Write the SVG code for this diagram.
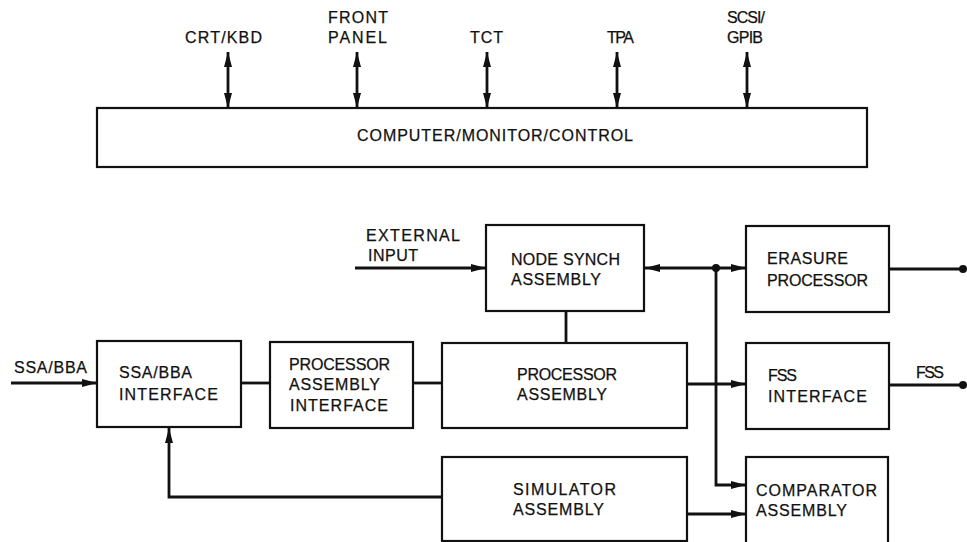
<svg xmlns="http://www.w3.org/2000/svg" width="967" height="542" viewBox="0 0 967 542">
<style>
  .box { fill: #fff; stroke: #111; stroke-width: 2.2; }
  .t { font-family: "Liberation Sans", Arial, sans-serif; font-size: 16px; fill: #111; stroke: #111; stroke-width: 0.25; }
  .c { fill: none; stroke: #111; stroke-width: 2.8; }
  .a { marker-end: url(#ah); }
  .ab { marker-start: url(#ah); marker-end: url(#ah); }
  .dot { fill: #111; }
</style>
<defs>
  <marker id="ah" markerUnits="userSpaceOnUse" markerWidth="16" markerHeight="10" refX="15" refY="4.5" orient="auto-start-reverse">
    <path d="M0,0.5 L15,4.5 L0,8.5 Z" fill="#111"/>
  </marker>
</defs>
<rect width="967" height="542" fill="#fff"/>

<g id="connectors">
  <line class="c ab" x1="228" y1="52" x2="228" y2="108"/>
  <line class="c ab" x1="357" y1="52" x2="357" y2="108"/>
  <line class="c ab" x1="487" y1="52" x2="487" y2="108"/>
  <line class="c ab" x1="617" y1="52" x2="617" y2="108"/>
  <line class="c ab" x1="747" y1="52" x2="747" y2="108"/>
  <line class="c a" x1="355" y1="268" x2="486" y2="268"/>
  <line class="c ab" x1="645" y1="268" x2="746" y2="268"/>
  <circle class="dot" cx="716" cy="268" r="4"/>
  <polyline class="c a" points="716,268 716,485 746,485"/>
  <line class="c" x1="889" y1="269" x2="963" y2="269"/>
  <circle class="dot" cx="963" cy="269" r="4"/>
  <line class="c" x1="566" y1="311" x2="566" y2="343"/>
  <line class="c a" x1="11" y1="383" x2="97" y2="383"/>
  <line class="c" x1="241" y1="383" x2="270" y2="383"/>
  <line class="c" x1="413" y1="383" x2="442" y2="383"/>
  <line class="c a" x1="687" y1="384" x2="746" y2="384"/>
  <line class="c" x1="889" y1="385" x2="963" y2="385"/>
  <circle class="dot" cx="963" cy="385" r="4"/>
  <polyline class="c a" points="442,497 169,497 169,428"/>
  <line class="c a" x1="687" y1="514" x2="746" y2="514"/>
</g>

<g id="labels">
  <text class="t" x="185" y="43" textLength="77" lengthAdjust="spacing">CRT/KBD</text>
  <text class="t" x="328" y="23" textLength="60" lengthAdjust="spacing">FRONT</text>
  <text class="t" x="328" y="43" textLength="59" lengthAdjust="spacing">PANEL</text>
  <text class="t" x="470" y="43" textLength="33" lengthAdjust="spacing">TCT</text>
  <text class="t" x="607" y="43" textLength="27" lengthAdjust="spacing">TPA</text>
  <text class="t" x="727" y="23" textLength="38" lengthAdjust="spacing">SCSI/</text>
  <text class="t" x="727" y="43" textLength="36" lengthAdjust="spacing">GPIB</text>
  <text class="t" x="366" y="241" textLength="94" lengthAdjust="spacing">EXTERNAL</text>
  <text class="t" x="368" y="261" textLength="50" lengthAdjust="spacing">INPUT</text>
  <text class="t" x="14" y="373" textLength="73" lengthAdjust="spacing">SSA/BBA</text>
  <text class="t" x="916" y="378" textLength="28" lengthAdjust="spacing">FSS</text>
</g>

<g id="cmc">
  <rect class="box" x="97" y="108" width="770" height="59"/>
  <text class="t" x="357" y="141" textLength="276" lengthAdjust="spacing">COMPUTER/MONITOR/CONTROL</text>
</g>

<g id="node-synch">
  <rect class="box" x="486" y="225" width="158" height="86"/>
  <text class="t" x="511" y="265" textLength="109" lengthAdjust="spacing">NODE SYNCH</text>
  <text class="t" x="511" y="285" textLength="90" lengthAdjust="spacing">ASSEMBLY</text>
</g>

<g id="erasure">
  <rect class="box" x="746" y="226" width="143" height="86"/>
  <text class="t" x="767" y="264" textLength="81" lengthAdjust="spacing">ERASURE</text>
  <text class="t" x="767" y="286" textLength="101" lengthAdjust="spacing">PROCESSOR</text>
</g>

<g id="ssa-bba-interface">
  <rect class="box" x="97" y="341" width="144" height="86"/>
  <text class="t" x="119" y="378" textLength="73" lengthAdjust="spacing">SSA/BBA</text>
  <text class="t" x="119" y="400" textLength="99" lengthAdjust="spacing">INTERFACE</text>
</g>

<g id="processor-assembly-interface">
  <rect class="box" x="270" y="342" width="143" height="86"/>
  <text class="t" x="289" y="370" textLength="101" lengthAdjust="spacing">PROCESSOR</text>
  <text class="t" x="289" y="390" textLength="91" lengthAdjust="spacing">ASSEMBLY</text>
  <text class="t" x="290" y="411" textLength="98" lengthAdjust="spacing">INTERFACE</text>
</g>

<g id="processor-assembly">
  <rect class="box" x="442" y="343" width="245" height="85"/>
  <text class="t" x="517" y="380" textLength="100" lengthAdjust="spacing">PROCESSOR</text>
  <text class="t" x="517" y="400" textLength="90" lengthAdjust="spacing">ASSEMBLY</text>
</g>

<g id="fss-interface">
  <rect class="box" x="746" y="343" width="143" height="86"/>
  <text class="t" x="768" y="381" textLength="29" lengthAdjust="spacing">FSS</text>
  <text class="t" x="768" y="402" textLength="99" lengthAdjust="spacing">INTERFACE</text>
</g>

<g id="simulator-assembly">
  <rect class="box" x="442" y="457" width="245" height="84"/>
  <text class="t" x="513" y="495" textLength="103" lengthAdjust="spacing">SIMULATOR</text>
  <text class="t" x="513" y="515" textLength="91" lengthAdjust="spacing">ASSEMBLY</text>
</g>

<g id="comparator-assembly">
  <rect class="box" x="746" y="457" width="142" height="95"/>
  <text class="t" x="756" y="496" textLength="121" lengthAdjust="spacing">COMPARATOR</text>
  <text class="t" x="756" y="516" textLength="91" lengthAdjust="spacing">ASSEMBLY</text>
</g>
</svg>
